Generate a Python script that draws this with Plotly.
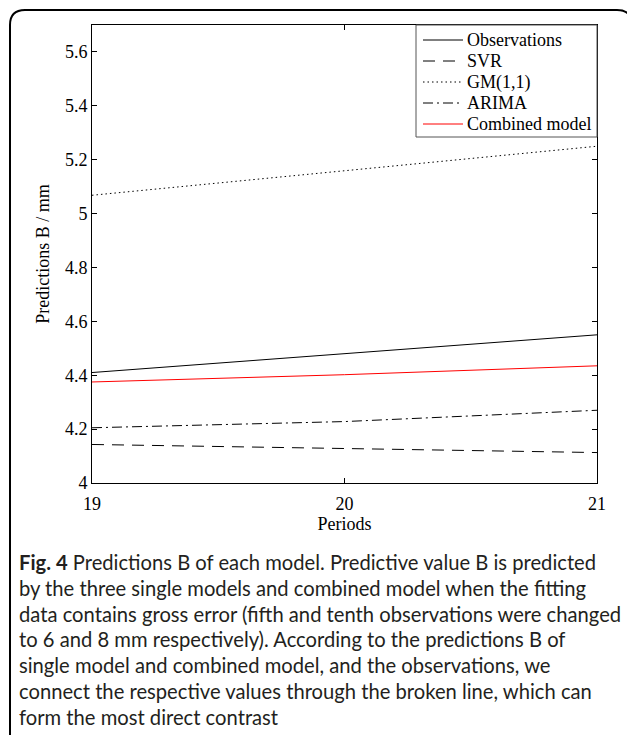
import plotly.graph_objects as go

periods = [19, 20, 21]
observations = [4.41, 4.48, 4.55]
svr = [4.143, 4.127, 4.113]
gm11 = [5.068, 5.158, 5.250]
arima = [4.205, 4.228, 4.270]
combined = [4.375, 4.402, 4.435]

series_names = ["Observations", "SVR", "GM(1,1)", "ARIMA", "Combined model"]
y_ticks = [4, 4.2, 4.4, 4.6, 4.8, 5, 5.2, 5.4, 5.6]
y_tick_labels = ["4", "4.2", "4.4", "4.6", "4.8", "5", "5.2", "5.4", "5.6"]
x_ticks = [19, 20, 21]

caption_lines = [
    "<b>Fig. 4</b> Predictions B of each model. Predictive value B is predicted",
    "by the three single models and combined model when the fitting",
    "data contains gross error (fifth and tenth observations were changed",
    "to 6 and 8 mm respectively). According to the predictions B of",
    "single model and combined model, and the observations, we",
    "connect the respective values through the broken line, which can",
    "form the most direct contrast",
]

W, H = 627, 735
L, R, T, B = 92, 597, 25, 483
pw, ph = R - L, B - T


def px(x):
    return (x - L) / pw


def py(y):
    return (B - y) / ph


serif = "Liberation Serif"
sans = "Lato"

fig = go.Figure()
styles = [
    (observations, dict(color="#000000", width=1, dash="solid")),
    (svr, dict(color="#000000", width=1, dash="12px,8px")),
    (gm11, dict(color="#000000", width=1, dash="1.5px,3px")),
    (arima, dict(color="#000000", width=1, dash="10px,4px,2px,4px")),
    (combined, dict(color="#ff0000", width=1, dash="solid")),
]
for name, (vals, line) in zip(series_names, styles):
    fig.add_trace(go.Scatter(x=periods, y=vals, mode="lines", name=name, line=line,
                             showlegend=False, hoverinfo="skip"))

axis_common = dict(
    showgrid=False, zeroline=False, showline=True, linecolor="#000000", linewidth=1,
    mirror="ticks", ticks="inside", ticklen=5, tickcolor="#000000", tickwidth=1,
    tickfont=dict(family=serif, size=18, color="#000000"),
)
fig.update_xaxes(range=[19, 21], tickvals=x_ticks, ticktext=[str(v) for v in x_ticks],
                 ticklabelstandoff=4,
                 title=dict(text="Periods", font=dict(family=serif, size=18, color="#000000"), standoff=0),
                 **axis_common)
fig.update_yaxes(range=[4, 5.7], tickvals=y_ticks, ticktext=y_tick_labels,
                 title=dict(text="Predictions B / mm", font=dict(family=serif, size=18, color="#000000"), standoff=10),
                 **axis_common)

annotations = []
shapes = []

# legend box (manual, to match the reference's compact rows)
lg_l, lg_r, lg_t, lg_b = 416, 597, 25, 137
shapes.append(dict(type="rect", xref="paper", yref="paper",
                   x0=px(lg_l), x1=px(lg_r), y0=py(lg_b), y1=py(lg_t),
                   line=dict(color="#555555", width=1), fillcolor="#ffffff", layer="above"))
for i, (name, (vals, line)) in enumerate(zip(series_names, styles)):
    yy = 40 + i * 21
    shapes.append(dict(type="line", xref="paper", yref="paper",
                       x0=px(423), x1=px(463), y0=py(yy), y1=py(yy),
                       line=line, layer="above"))
    annotations.append(dict(text=name, xref="paper", yref="paper", x=px(465), y=py(yy),
                            xanchor="left", yanchor="middle", showarrow=False,
                            font=dict(family=serif, size=18, color="#000000")))

y0 = 562
for i, line in enumerate(caption_lines):
    annotations.append(dict(
        text=line, xref="paper", yref="paper", x=px(17), y=py(y0 + i * 25.8),
        xanchor="left", yanchor="middle", showarrow=False,
        font=dict(family=sans, size=20.2, color="#231f20"),
    ))

r = 15
fl, ft, fr, fb = 10, 10, 632, 760
path = (f"M {px(fl)} {py(fb)} L {px(fl)} {py(ft + r)} "
        f"Q {px(fl)} {py(ft)} {px(fl + r)} {py(ft)} "
        f"L {px(fr - r)} {py(ft)} Q {px(fr)} {py(ft)} {px(fr)} {py(ft + r)} "
        f"L {px(fr)} {py(fb)}")
shapes.append(dict(type="path", path=path, xref="paper", yref="paper",
                   line=dict(color="#000000", width=2), layer="above"))

fig.update_layout(
    width=W, height=H,
    margin=dict(l=L, r=W - R, t=T, b=H - B),
    paper_bgcolor="#ffffff", plot_bgcolor="#ffffff",
    font=dict(family=serif, size=18, color="#000000"),
    showlegend=False,
    hovermode=False,
    annotations=annotations,
    shapes=shapes,
)

fig.write_html("out.html",
               config={"displayModeBar": False, "staticPlot": True},
               post_script="document.body.style.margin='0';document.body.style.overflow='hidden';")
